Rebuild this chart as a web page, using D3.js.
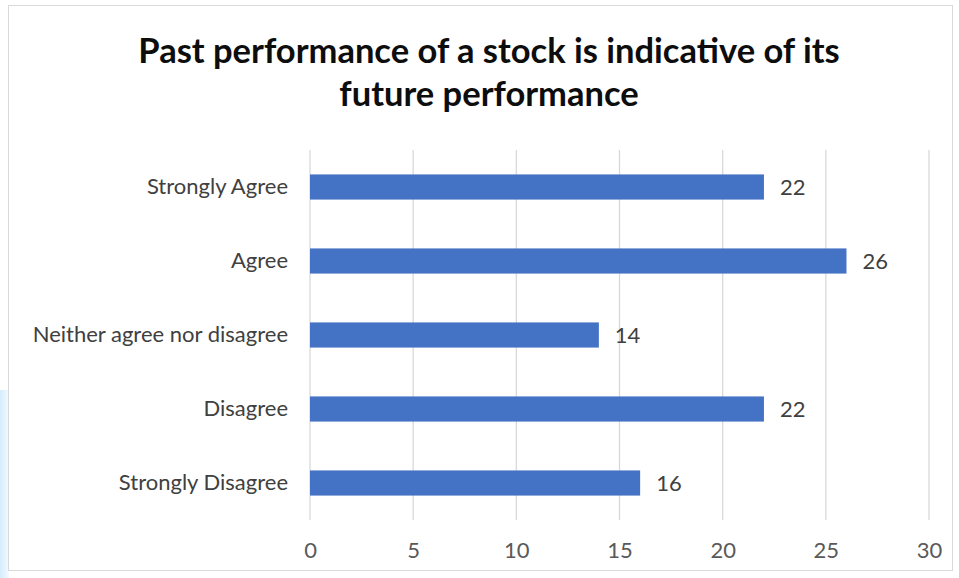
<!DOCTYPE html>
<html><head><meta charset="utf-8">
<script src="https://cdn.jsdelivr.net/npm/d3@7"></script>
<style>body{margin:0;background:#fff}svg{display:block}</style>
</head><body>
<script>
const categories = ["Strongly Agree","Agree","Neither agree nor disagree","Disagree","Strongly Disagree"];
const values = [22,26,14,22,16];
const xTicks = [0,5,10,15,20,25,30];
const titleLines = ["Past performance of a stock is indicative of its","future performance"];

const W=959,H=578;
const svg=d3.select("body").append("svg").attr("width",W).attr("height",H);
const defs=svg.append("defs");
const g1=defs.append("linearGradient").attr("id","lb").attr("x1",0).attr("x2",1);
g1.append("stop").attr("offset",0).attr("stop-color","#d4ecfb");
g1.append("stop").attr("offset",1).attr("stop-color","#f3faff");
svg.append("rect").attr("x",0).attr("y",390).attr("width",9).attr("height",188).attr("fill","url(#lb)");
svg.append("rect").attr("x",8.5).attr("y",5.5).attr("width",944).attr("height",565)
  .attr("fill","#fff").attr("stroke","#d9d9d9");

const font="Lato, Calibri, sans-serif";
const x=d3.scaleLinear().domain([0,30]).range([310,929]);
const y=d3.scaleBand().domain(categories).range([150,520]).paddingInner(0.66).paddingOuter(0.33);

svg.append("g").selectAll("text").data(titleLines).join("text")
  .attr("x",489).attr("y",(d,i)=>63+i*43).attr("text-anchor","middle")
  .attr("font-family",font).attr("font-weight","bold").attr("font-size",34.5).attr("fill","#0d0d0d").text(d=>d);

// gridlines
svg.append("g").selectAll("line").data(xTicks).join("line")
  .attr("x1",d=>x(d)).attr("x2",d=>x(d)).attr("y1",150).attr("y2",520)
  .attr("stroke","#d9d9d9").attr("stroke-width",1.3);

const xa=svg.append("g").attr("transform","translate(0,520)")
  .call(d3.axisBottom(x).tickValues(xTicks).tickSize(0).tickPadding(22));
xa.select(".domain").remove();
xa.selectAll("text").attr("font-family",font).attr("font-size",22).attr("fill","#595959");

const ya=svg.append("g").attr("transform","translate(310,0)")
  .call(d3.axisLeft(y).tickSize(0).tickPadding(22));
ya.select(".domain").remove();
ya.selectAll("text").attr("font-family",font).attr("font-size",22).attr("fill","#404040");

svg.append("g").selectAll("rect").data(values).join("rect")
  .attr("x",x(0)).attr("y",(d,i)=>y(categories[i])).attr("width",d=>x(d)-x(0))
  .attr("height",y.bandwidth()).attr("fill","#4472c4");

svg.append("g").selectAll("text").data(values).join("text")
  .attr("x",d=>x(d)+16).attr("y",(d,i)=>y(categories[i])+y.bandwidth()/2).attr("dy","0.35em")
  .attr("font-family",font).attr("font-size",22).attr("fill","#404040").text(d=>d);
</script>
</body></html>
